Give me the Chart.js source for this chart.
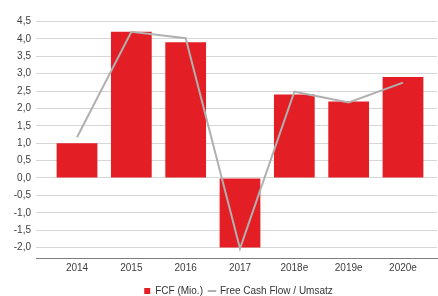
<!DOCTYPE html>
<html>
<head>
<meta charset="utf-8">
<script src="https://cdn.jsdelivr.net/npm/chart.js@4"></script>
<style>
  html, body { margin: 0; padding: 0; background: #fff; }
  #wrap { width: 438px; height: 296px; }
</style>
</head>
<body>
<div id="wrap"><canvas id="chart"></canvas></div>
<script>
var years = ['2014', '2015', '2016', '2017', '2018e', '2019e', '2020e'];
var fcf = [1.0, 4.2, 3.9, -2.0, 2.4, 2.2, 2.9];
var fcfUmsatz = [1.17, 4.2, 4.02, -2.03, 2.48, 2.17, 2.74];
var yTicks = [-2.0, -1.5, -1.0, -0.5, 0.0, 0.5, 1.0, 1.5, 2.0, 2.5, 3.0, 3.5, 4.0, 4.5];

var toPoints = function(arr) {
    return arr.map(function(v, i) { return { x: i, y: v }; });
};

// legend box: keep it short so the plot keeps its height, then nudge it
var legendSpot = {
    id: 'legendSpot',
    beforeLayout: function(chart) {
        var lg = chart.legend;
        if (lg && !lg._patched) {
            var fit = lg.fit;
            lg.fit = function() { fit.call(this); this.height = 22; };
            lg._patched = true;
        }
    },
    afterLayout: function(chart) {
        var lg = chart.legend;
        if (lg) {
            lg.top += 6; lg.bottom += 6;
            lg.left += 20; lg.right += 20;
        }
    }
};

var ctx = document.getElementById('chart').getContext('2d');
Chart.defaults.font.family = '"Liberation Sans", Arial, sans-serif';
Chart.defaults.font.size = 10;
Chart.defaults.color = '#404040';

var chart = new Chart(ctx, {
    type: 'bar',
    data: {
        datasets: [{
            type: 'bar',
            label: 'FCF (Mio.)',
            data: toPoints(fcf),
            backgroundColor: '#e31e24',
            borderWidth: 0,
            barPercentage: 0.75,
            categoryPercentage: 1.0,
            pointStyle: 'rect',
            order: 2
        }, {
            type: 'line',
            label: 'Free Cash Flow / Umsatz',
            data: toPoints(fcfUmsatz),
            borderColor: '#b0b0b0',
            backgroundColor: '#b0b0b0',
            borderWidth: 2,
            pointRadius: 0,
            tension: 0,
            pointStyle: 'line',
            order: 1
        }]
    },
    options: {
        responsive: true,
        maintainAspectRatio: false,
        animation: false,
        layout: { padding: { top: 0, right: 1, bottom: 0, left: 0 } },
        plugins: {
            tooltip: { enabled: false },
            legend: {
                position: 'bottom',
                labels: {
                    usePointStyle: true,
                    boxWidth: 6,
                    boxHeight: 6,
                    padding: 6,
                    color: '#333',
                    sort: function(a, b) { return a.datasetIndex - b.datasetIndex; }
                }
            }
        },
        scales: {
            x: {
                type: 'linear',
                offset: false,
                min: -0.755,
                max: 6.626,
                grid: { display: false, drawTicks: false },
                border: { display: true, color: '#7f7f7f', width: 1 },
                afterBuildTicks: function(scale) {
                    scale.ticks = years.map(function(_, i) { return { value: i }; });
                },
                afterFit: function(scale) { scale.height = 16; },
                ticks: {
                    padding: 4,
                    autoSkip: false,
                    maxRotation: 0,
                    callback: function(v) { return years[v]; }
                }
            },
            y: {
                min: -2.3,
                max: 4.8,
                grid: { color: '#d6d6d6', lineWidth: 1, drawTicks: false },
                border: { display: false },
                afterBuildTicks: function(scale) {
                    scale.ticks = yTicks.map(function(v) { return { value: v }; });
                },
                afterFit: function(scale) { scale.width = 36; },
                ticks: {
                    padding: 5,
                    callback: function(v) { return v.toFixed(1).replace('.', ','); }
                }
            }
        }
    },
    plugins: [legendSpot]
});
</script>
</body>
</html>
